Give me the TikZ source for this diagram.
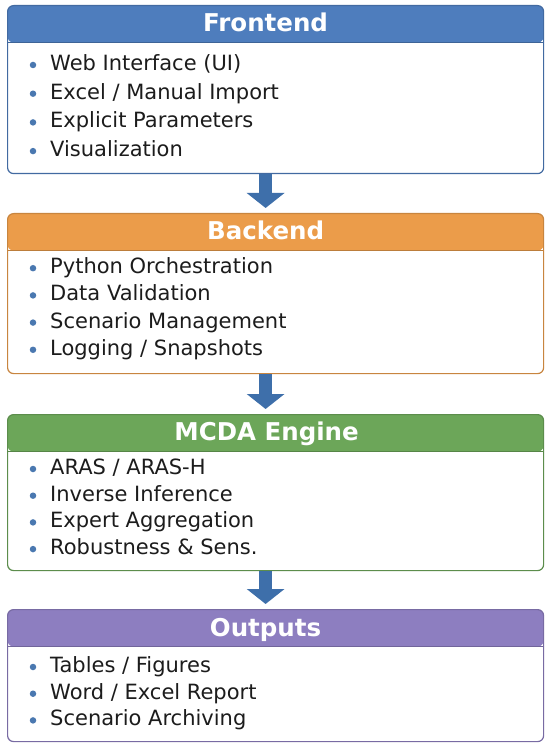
\documentclass[tikz,border=0pt]{standalone}
\usepackage{fontspec}
\setmainfont{DejaVu Sans}
\usetikzlibrary{arrows.meta}
\definecolor{frontblue}{HTML}{4E7DBD}
\definecolor{backorange}{HTML}{EB9C4A}
\definecolor{enginegreen}{HTML}{6CA659}
\definecolor{outpurple}{HTML}{8D7EC0}
\definecolor{arrowblue}{HTML}{3E6FAA}
\definecolor{dotblue}{HTML}{4A78B0}
\definecolor{inktext}{HTML}{1C1C1C}
\begin{document}
\begin{tikzpicture}
  [x=1pt,y=-1pt,
   layer/.style={draw=#1!85!black,fill=white,rounded corners=6pt,line width=1.2pt,
     minimum width=536pt,anchor=north west,inner sep=0pt,
     path picture={\fill[#1] (path picture bounding box.north west) rectangle
       ([yshift=-37pt]path picture bounding box.north east);
       \draw[#1!80!black,line width=1pt] ([yshift=-37pt]path picture bounding box.north west) --
       ([yshift=-37pt]path picture bounding box.north east);}},
   title/.style={text=white,font=\bfseries\fontsize{24.5}{28}\selectfont,inner sep=0pt,
     text height=17pt,text depth=0pt},
   entry/.style={anchor=west,text=inktext,font=\fontsize{21}{25}\selectfont,inner sep=0pt,
     text height=15.5pt,text depth=4.5pt},
   dot/.style={circle,fill=dotblue,inner sep=0pt,minimum size=6.5pt},
   flow/.style={draw=arrowblue,line width=13pt,-{Triangle[width=37pt,length=15pt]},shorten >=5pt}]
  \useasboundingbox[fill=white] (0,0) rectangle (550,743);

  % boxes
  \node[layer=frontblue,minimum height=168pt] (front) at (7,5) {};
  \node[layer=backorange,minimum height=160pt] (back) at (7,213) {};
  \node[layer=enginegreen,minimum height=156pt] (engine) at (7,414) {};
  \node[layer=outpurple,minimum height=132pt] (outs) at (7,609) {};

  % titles
  \node[title] (fronttitle) at ([xshift=-10pt,yshift=-18.5pt]front.north) {Frontend};
  \node[title] (backtitle) at ([xshift=-10pt,yshift=-18.5pt]back.north) {Backend};
  \node[title] (enginetitle) at ([xshift=-9pt,yshift=-18pt]engine.north) {MCDA Engine};
  \node[title] (outstitle) at ([xshift=-10pt,yshift=-18.5pt]outs.north) {Outputs};

  % items
  \foreach \txt [count=\i] in {Web Interface (UI),Excel / Manual Import,Explicit Parameters,Visualization}
    {\node[dot] (fd\i) at (33,36.3+28.7*\i) {};
     \node[entry] (f\i) at (50,36.3+28.7*\i) {\txt};}
  \foreach \txt [count=\i] in {Python Orchestration,Data Validation,Scenario Management,Logging / Snapshots}
    {\node[dot] (bd\i) at (33,241+27.2*\i) {};
     \node[entry] (b\i) at (50,241+27.2*\i) {\txt};}
  \foreach \txt [count=\i] in {ARAS / ARAS-H,Inverse Inference,Expert Aggregation,Robustness \& Sens.}
    {\node[dot] (ed\i) at (33,442.3+26.7*\i) {};
     \node[entry] (e\i) at (50,442.3+26.7*\i) {\txt};}
  \foreach \txt [count=\i] in {Tables / Figures,Word / Excel Report,Scenario Archiving}
    {\node[dot] (od\i) at (33,640.3+26.7*\i) {};
     \node[entry] (o\i) at (50,640.3+26.7*\i) {\txt};}

  % arrows
  \foreach \from/\to in {front/back,back/engine,engine/outs}
    \draw[flow] ([xshift=-10pt]\from.south) -- ([xshift=-10pt]\to.north);
\end{tikzpicture}
\end{document}
